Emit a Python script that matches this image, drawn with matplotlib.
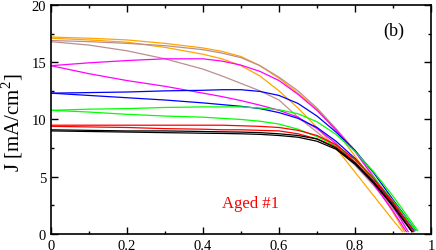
import matplotlib
matplotlib.use("Agg")
import matplotlib.pyplot as plt
from matplotlib.ticker import MultipleLocator, FuncFormatter

V_grid = [0, 0.1, 0.2, 0.3, 0.4, 0.45, 0.5, 0.55, 0.6, 0.65, 0.7, 0.75, 0.8, 0.85, 0.9]

curves = [
    # (color, J values on V_grid, end voltage, end J)
    ("#FFA500", [17.2, 17.1, 16.95, 16.65, 16.25, 15.95, 15.5, 14.7, 13.6, 12.3, 10.9, 9.0, 6.8, 4.5, 1.9], 0.93, 0.2),
    ("#FFA500", [17.1, 16.95, 16.75, 16.3, 15.7, 15.3, 14.7, 13.8, 12.5, 11.0, 9.3, 7.5, 5.4, 3.3, 1.2], 0.925, 0.2),
    ("#BC8F8F", [16.9, 16.8, 16.65, 16.45, 16.1, 15.8, 15.4, 14.7, 13.7, 12.5, 11.0, 9.2, 7.3, 5.0, 2.6], 0.955, 0.2),
    ("#BC8F8F", [16.8, 16.5, 16.0, 15.3, 14.4, 13.8, 13.15, 12.5, 11.7, 10.2, 8.9, 7.5, 6.0, 4.2, 2.2], 0.95, 0.2),
    ("#FF00FF", [14.7, 14.95, 15.15, 15.3, 15.3, 15.1, 14.75, 14.2, 13.4, 12.2, 10.8, 9.1, 7.2, 4.9, 2.4], 0.94, 0.2),
    ("#FF00FF", [14.7, 14.0, 13.4, 12.9, 12.3, 12.0, 11.65, 11.25, 10.8, 10.2, 9.2, 7.9, 6.2, 4.3, 2.0], 0.935, 0.2),
    ("#0000FF", [12.3, 12.35, 12.4, 12.5, 12.55, 12.6, 12.6, 12.45, 12.1, 11.4, 10.3, 8.9, 7.3, 5.3, 3.0], 0.96, 0.3),
    ("#0000FF", [12.3, 12.1, 11.9, 11.7, 11.45, 11.3, 11.15, 10.95, 10.6, 10.1, 9.3, 8.1, 6.6, 4.8, 2.7], 0.955, 0.3),
    ("#00FF00", [10.8, 10.9, 10.95, 11.05, 11.1, 11.1, 11.1, 11.0, 10.85, 10.5, 9.8, 8.7, 7.2, 5.4, 3.3], 0.965, 0.3),
    ("#00FF00", [10.8, 10.65, 10.45, 10.3, 10.2, 10.1, 10.0, 9.85, 9.6, 9.15, 8.5, 7.7, 6.5, 4.9, 2.9], 0.96, 0.3),
    ("#FF0000", [9.5, 9.5, 9.5, 9.5, 9.5, 9.5, 9.45, 9.4, 9.3, 9.05, 8.6, 7.8, 6.5, 4.8, 2.8], 0.955, 0.2),
    ("#FF0000", [9.4, 9.35, 9.3, 9.2, 9.15, 9.1, 9.1, 9.05, 9.0, 8.75, 8.3, 7.6, 6.3, 4.6, 2.6], 0.95, 0.2),
    ("#000000", [9.1, 9.05, 9.0, 9.0, 8.95, 8.92, 8.9, 8.85, 8.75, 8.6, 8.3, 7.5, 6.2, 4.5, 2.5], 0.95, 0.2),
    ("#000000", [9.0, 8.95, 8.9, 8.85, 8.8, 8.78, 8.75, 8.7, 8.6, 8.45, 8.1, 7.4, 6.1, 4.4, 2.4], 0.95, 0.2),
]

x_ticks = [0, 0.2, 0.4, 0.6, 0.8, 1.0]
y_ticks = [0, 5, 10, 15, 20]

plt.rcParams['font.family'] = ['Liberation Serif', 'DejaVu Serif']
plt.rcParams['mathtext.fontset'] = 'custom'
plt.rcParams['mathtext.rm'] = 'Liberation Serif'

fig = plt.figure(figsize=(4.36, 2.51), dpi=100)
ax = fig.add_axes([0.117, 0.064, 0.8715, 0.912])

for color, J, vend, jend in curves:
    ax.plot(V_grid + [vend], J + [jend], color=color, lw=0.9)

ax.set_xlim(0, 1)
ax.set_ylim(0, 20)
ax.set_xticks(x_ticks)
ax.set_yticks(y_ticks)
ax.xaxis.set_minor_locator(MultipleLocator(0.1))
ax.yaxis.set_minor_locator(MultipleLocator(2.5))
ax.xaxis.set_major_formatter(FuncFormatter(lambda v, p: f"{v:g}"))
ax.tick_params(which='both', direction='in', top=True, right=True, labelsize=10.5, width=1.0)
ax.tick_params(which='major', length=5)
ax.tick_params(which='minor', length=2.5)
for s in ax.spines.values():
    s.set_linewidth(1.2)

ax.set_ylabel(r"J [mA/cm$^{\mathregular{2}}$]", fontsize=15)
ax.yaxis.set_label_coords(-0.068, 0.49)
ax.text(0.901, 0.889, "(b)", transform=ax.transAxes, fontsize=13, ha='center', va='center')
ax.text(0.45, 2.7, "Aged #1", color='#FF0000', fontsize=12, ha='left', va='center')

fig.savefig("out.png", dpi=100)
